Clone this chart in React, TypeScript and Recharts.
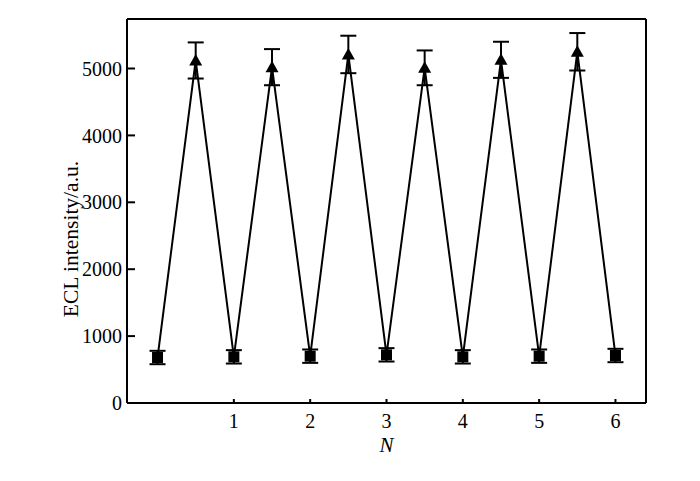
import React from 'react';
import { LineChart, Line, XAxis, YAxis, ErrorBar, ReferenceLine } from 'recharts';

// cycle positions (N) and measured ECL intensity with error
const cycleN = [0, 0.5, 1, 1.5, 2, 2.5, 3, 3.5, 4, 4.5, 5, 5.5, 6];
const intensity = [680, 5120, 690, 5020, 700, 5210, 720, 5010, 690, 5130, 700, 5250, 710];
const errors = [100, 270, 100, 270, 100, 280, 100, 260, 100, 270, 100, 280, 100];
const xTicks = [1, 2, 3, 4, 5, 6];
const yTicks = [0, 1000, 2000, 3000, 4000, 5000];

const X_DOMAIN: [number, number] = [-0.4, 6.4];
const Y_DOMAIN: [number, number] = [0, 5740];

const data = cycleN.map((n, i) => ({
  n,
  ecl: intensity[i],
  err: errors[i],
  high: i % 2 === 1,
}));

const font = '"Liberation Serif", "DejaVu Serif", serif';

const Marker = (props: any) => {
  const { cx, cy, payload } = props;
  if (cx == null || cy == null) return null;
  if (payload.high) {
    return <path d={`M${cx},${cy - 6.5} L${cx + 6.5},${cy + 5} L${cx - 6.5},${cy + 5} Z`} fill="#000" />;
  }
  return <rect x={cx - 5.5} y={cy - 5.5} width={11} height={11} fill="#000" />;
};

// rotated axis title, sits a little below the plot's middle as in the original
const YLabel = (props: any) => {
  const { viewBox } = props;
  const cx = 71;
  const cy = viewBox.y + viewBox.height / 2 + 28;
  return (
    <text
      x={cx}
      y={cy}
      transform={`rotate(-90, ${cx}, ${cy})`}
      textAnchor="middle"
      dominantBaseline="central"
      fill="#000"
      fontSize={21.5}
      fontFamily={font}
    >
      ECL intensity/a.u.
    </text>
  );
};

export default function App() {
  return (
    <div style={{ position: 'absolute', left: 0, top: 0, background: '#fff' }}>
      <LineChart width={700} height={481} data={data} margin={{ top: 19, right: 54, left: 0, bottom: 0 }}>
        <XAxis
          dataKey="n"
          type="number"
          domain={X_DOMAIN}
          ticks={xTicks}
          allowDataOverflow
          height={78}
          tickSize={-4}
          tickMargin={15}
          axisLine={{ stroke: '#000', strokeWidth: 2 }}
          tickLine={{ stroke: '#000', strokeWidth: 2 }}
          tick={{ fill: '#000', fontSize: 20, fontFamily: font }}
          label={{ value: 'N', position: 'insideBottom', offset: 29, fill: '#000', fontSize: 21, fontFamily: font, fontStyle: 'italic' }}
        />
        <YAxis
          type="number"
          domain={Y_DOMAIN}
          ticks={yTicks}
          allowDataOverflow
          width={127}
          tickSize={-8}
          tickMargin={13}
          axisLine={{ stroke: '#000', strokeWidth: 2 }}
          tickLine={{ stroke: '#000', strokeWidth: 2 }}
          tick={{ fill: '#000', fontSize: 20, fontFamily: font }}
          label={<YLabel />}
        />
        <ReferenceLine y={Y_DOMAIN[1]} stroke="#000" strokeWidth={2} />
        <ReferenceLine x={X_DOMAIN[1]} stroke="#000" strokeWidth={2} />
        <Line
          dataKey="ecl"
          stroke="#000"
          strokeWidth={2}
          dot={<Marker />}
          activeDot={false}
          isAnimationActive={false}
        >
          <ErrorBar dataKey="err" direction="y" width={8} stroke="#000" strokeWidth={2} />
        </Line>
      </LineChart>
    </div>
  );
}
